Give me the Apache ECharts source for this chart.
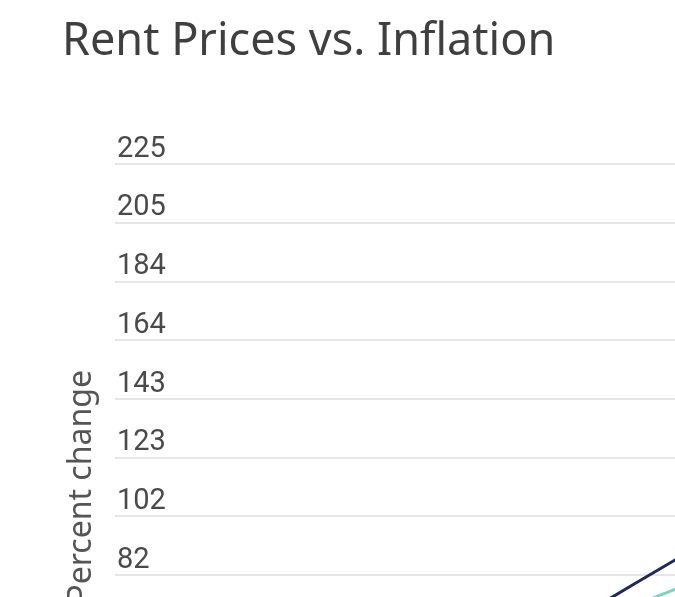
<!DOCTYPE html>
<html><head><meta charset="utf-8">
<script src="https://cdn.jsdelivr.net/npm/echarts@6/dist/echarts.min.js"></script>
<style>html,body{margin:0;padding:0;overflow:hidden;background:#fff}#c{width:830px;height:900px}</style>
</head><body><div id="c"></div>
<script>
const years = ['2006','2007','2008','2009','2010','2011','2012','2013','2014','2015','2016','2017','2018','2019','2020','2021','2022','2023'];
const rentChange = [0, 4, 8, 12, 15, 19, 24, 30, 37, 45, 53, 62, 70.5, 78.8, 87.0, 95.8, 106, 114];
const inflationChange = [0, 3, 6, 7, 10, 14, 18, 23, 28, 34, 42, 54, 66.0, 71.3, 76.8, 82.9, 88, 92];
const yTickLabels = [0, 20, 41, 61, 82, 102, 123, 143, 164, 184, 205, 225];
const yMax = 225;
const yStep = yMax / (yTickLabels.length - 1);

const chart = echarts.init(document.getElementById('c'));
chart.setOption({
  animation: false,
  title: {
    text: 'Rent Prices vs. Inflation',
    left: 57, top: 15,
    textStyle: { fontSize: 45, fontWeight: 'normal', color: '#3f3f3f', fontFamily: 'Noto Sans' }
  },
  grid: { left: 115, right: 35, top: 164, bottom: 90.3 },
  xAxis: {
    type: 'category', data: years, boundaryGap: false,
    axisLine: { show: false }, axisTick: { show: false },
    axisLabel: { fontSize: 28, color: '#4d4d4d', fontFamily: 'Roboto' }
  },
  yAxis: {
    type: 'value', min: 0, max: yMax, interval: yStep,
    name: 'Percent change', nameLocation: 'middle', nameGap: 17,
    nameTextStyle: { fontSize: 32, color: '#555', fontFamily: 'Noto Sans' },
    axisLine: { show: false }, axisTick: { show: false },
    axisLabel: {
      inside: true, margin: 2, verticalAlign: 'bottom',
      fontSize: 29, color: '#4a4a4a', fontFamily: 'Roboto',
      formatter: v => String(yTickLabels[Math.round(v / yStep)])
    },
    splitLine: { lineStyle: { color: '#e6e6e6', width: 2 } }
  },
  series: [
    { name: 'Rent', type: 'line', data: rentChange, showSymbol: false,
      lineStyle: { width: 3, color: '#1f2a5c' } },
    { name: 'Inflation', type: 'line', data: inflationChange, showSymbol: false,
      lineStyle: { width: 3, color: '#7ad6c2' } }
  ]
});
</script></body></html>
